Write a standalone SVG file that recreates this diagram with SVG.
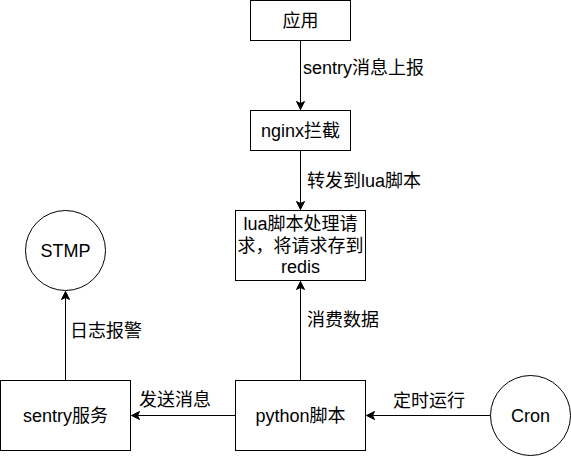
<svg xmlns="http://www.w3.org/2000/svg" width="571" height="456" viewBox="0 0 571 456">
<style>
.box{fill:#fff;stroke:#000;stroke-width:1}
.t{font-family:"Liberation Sans","Noto Sans CJK SC",sans-serif;font-size:18px;fill:#000}
.c{text-anchor:middle}
.e{fill:none;stroke:#000;stroke-width:1}
</style>
<defs>
<marker id="arr" markerUnits="userSpaceOnUse" markerWidth="12" markerHeight="12" viewBox="-10 -6 12 12" refX="0" refY="0" orient="auto">
<path d="M0,0 L-8,-4 L-6,0 L-8,4 Z" fill="#000" stroke="#000" stroke-width="1"/>
</marker>
</defs>
<rect width="571" height="456" fill="#fff"/>
<g id="connectors">
<path class="e" d="M300.5,40.5 L300.5,109.5" marker-end="url(#arr)"/>
<path class="e" d="M300.5,150.5 L300.5,209.5" marker-end="url(#arr)"/>
<path class="e" d="M300.5,380.5 L300.5,281.5" marker-end="url(#arr)"/>
<path class="e" d="M65.5,380.5 L65.5,291.5" marker-end="url(#arr)"/>
<path class="e" d="M235.5,415.5 L131.5,415.5" marker-end="url(#arr)"/>
<path class="e" d="M490.5,415.5 L366.5,415.5" marker-end="url(#arr)"/>
<text class="t" x="303" y="74">sentry消息上报</text>
<text class="t" x="307" y="187">转发到lua脚本</text>
<text class="t" x="307" y="326">消费数据</text>
<text class="t" x="70" y="337">日志报警</text>
<text class="t" x="139" y="406">发送消息</text>
<text class="t" x="393" y="407">定时运行</text>
</g>
<g id="app">
<rect class="box" x="250.5" y="0.5" width="100" height="40"/>
<text class="t c" x="300.5" y="27">应用</text>
</g>
<g id="nginx">
<rect class="box" x="250.5" y="110.5" width="100" height="40"/>
<text class="t c" x="300.5" y="137">nginx拦截</text>
</g>
<g id="lua">
<rect class="box" x="235.5" y="210.5" width="130" height="70"/>
<text class="t c" x="300.5" y="230">lua脚本处理请</text>
<text class="t c" x="300.5" y="251.5">求，将请求存到</text>
<text class="t c" x="300.5" y="273">redis</text>
</g>
<g id="stmp">
<circle class="box" cx="65.5" cy="250.5" r="40"/>
<text class="t c" x="65.5" y="257">STMP</text>
</g>
<g id="sentry">
<rect class="box" x="0.5" y="380.5" width="130" height="70"/>
<text class="t c" x="65.5" y="422">sentry服务</text>
</g>
<g id="python">
<rect class="box" x="235.5" y="380.5" width="130" height="70"/>
<text class="t c" x="300.5" y="422">python脚本</text>
</g>
<g id="cron">
<circle class="box" cx="530.5" cy="415.5" r="40"/>
<text class="t c" x="530.5" y="422">Cron</text>
</g>
</svg>
